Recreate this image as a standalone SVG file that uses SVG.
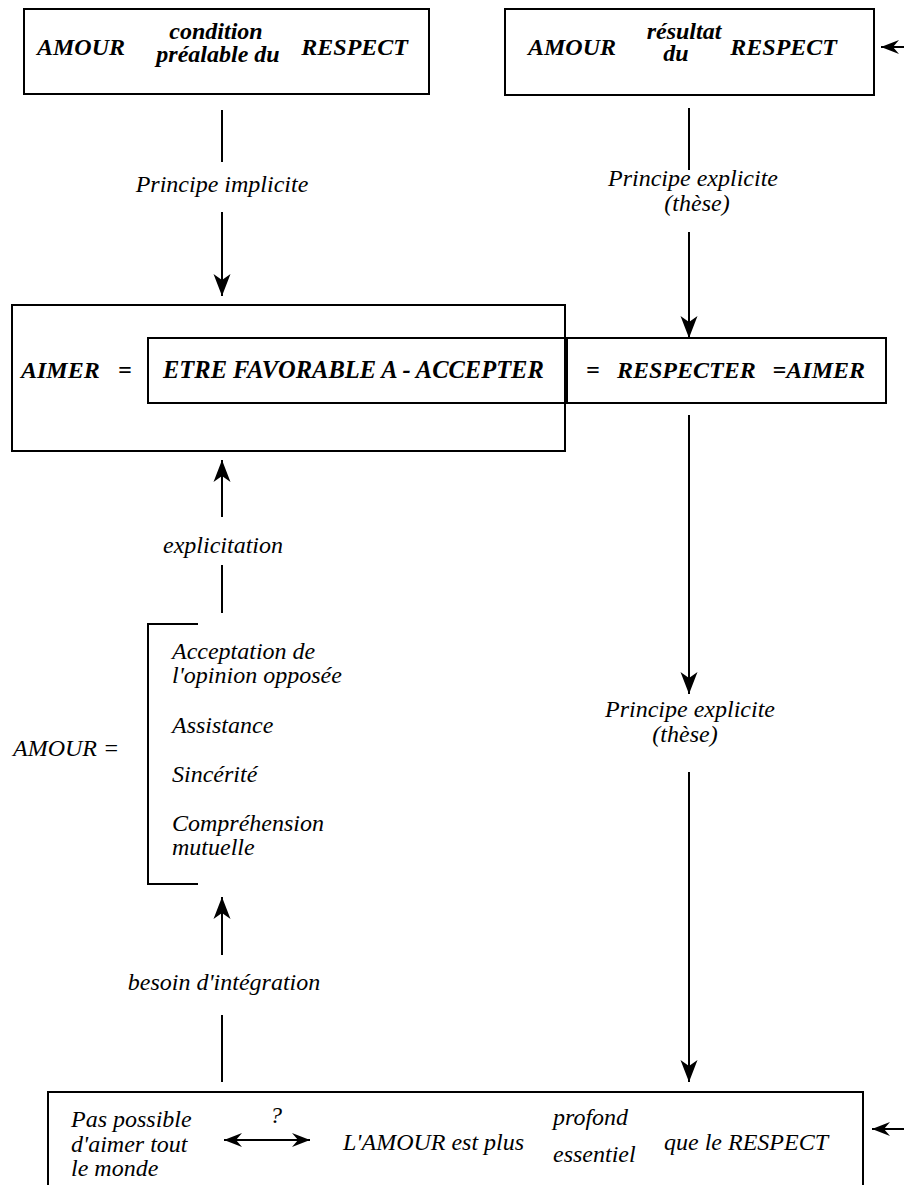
<svg xmlns="http://www.w3.org/2000/svg" width="904" height="1185" viewBox="0 0 904 1185">
<style>
.box{fill:none;stroke:#000;stroke-width:2}
.ln{fill:none;stroke:#000;stroke-width:2}
.b{font-style:italic;font-weight:bold;fill:#000;font-size:24px}
.i{font-style:italic;fill:#000;font-size:24px}
.m{text-anchor:middle}
.e{text-anchor:end}
</style>
<defs>
<marker id="ah" markerUnits="userSpaceOnUse" markerWidth="24" markerHeight="18" viewBox="-23 -9 24 18" refX="0" refY="0" orient="auto">
<path d="M0,0 L-22,-8.5 L-16,0 L-22,8.5 Z" fill="#000"/>
</marker>
<marker id="as" markerUnits="userSpaceOnUse" markerWidth="20" markerHeight="16" viewBox="-19 -8 20 16" refX="0" refY="0" orient="auto-start-reverse">
<path d="M0,0 L-18,-7 L-12,0 L-18,7 Z" fill="#000"/>
</marker>
</defs>
<g font-family="Liberation Serif, Times New Roman, serif">
<g id="node-amour-condition">
<rect class="box" x="24" y="9" width="405" height="85"/>
<text class="b" x="37" y="55">AMOUR</text>
<text class="b m" x="216" y="39">condition</text>
<text class="b m" x="218" y="62">préalable du</text>
<text class="b e" x="408" y="55">RESPECT</text>
</g>

<g id="node-amour-resultat">
<rect class="box" x="505" y="9" width="369" height="86"/>
<text class="b" x="528" y="55">AMOUR</text>
<text class="b m" x="684" y="39">résultat</text>
<text class="b m" x="676" y="61">du</text>
<text class="b e" x="837" y="55">RESPECT</text>
</g>

<g id="node-aimer">
<rect class="box" x="12" y="305" width="553" height="146"/>
<text class="b" x="21" y="378">AIMER</text>
<text class="b" x="118" y="378">=</text>
</g>

<g id="node-etre-favorable">
<rect class="box" x="148" y="338" width="417" height="65"/>
<text class="b" x="163" y="378" style="font-size:24.5px">ETRE FAVORABLE A - ACCEPTER</text>
</g>

<g id="node-respecter">
<rect class="box" x="567" y="338" width="319" height="65"/>
<text class="b" x="586" y="378">=</text>
<text class="b" x="617" y="378">RESPECTER</text>
<text class="b e" x="865" y="378">=AIMER</text>
</g>

<g id="node-amour-list">
<text class="i" x="13" y="756">AMOUR =</text>
<path class="box" d="M198,624 H148 V884 H198"/>
<text class="i" x="172" y="659">Acceptation de</text>
<text class="i" x="172" y="683">l'opinion opposée</text>
<text class="i" x="172" y="733">Assistance</text>
<text class="i" x="172" y="782">Sincérité</text>
<text class="i" x="172" y="831">Compréhension</text>
<text class="i" x="172" y="855">mutuelle</text>
</g>

<g id="node-bottom">
<path class="box" d="M48,1185 V1092 H863 V1185"/>
<text class="i" x="71" y="1127">Pas possible</text>
<text class="i" x="71" y="1152">d'aimer tout</text>
<text class="i" x="71" y="1176">le monde</text>
<text class="i m" x="276" y="1123">?</text>
<text class="i" x="343" y="1150">L'AMOUR est plus</text>
<text class="i" x="553" y="1125">profond</text>
<text class="i" x="553" y="1162">essentiel</text>
<text class="i m" x="746" y="1150">que le RESPECT</text>
</g>

<g id="connectors">
<path class="ln" d="M222,110 V162"/>
<path class="ln" d="M222,212 V296" marker-end="url(#ah)"/>
<text class="i m" x="222" y="192">Principe implicite</text>

<path class="ln" d="M689,108 V170"/>
<path class="ln" d="M689,232 V338" marker-end="url(#ah)"/>
<text class="i m" x="693" y="186">Principe explicite</text>
<text class="i m" x="697" y="211">(thèse)</text>

<path class="ln" d="M689,415 V694" marker-end="url(#ah)"/>
<text class="i m" x="690" y="717">Principe explicite</text>
<text class="i m" x="685" y="742">(thèse)</text>
<path class="ln" d="M689,772 V1082" marker-end="url(#ah)"/>

<path class="ln" d="M222,517 V460" marker-end="url(#ah)"/>
<text class="i m" x="223" y="553">explicitation</text>
<path class="ln" d="M222,565 V613"/>

<path class="ln" d="M222,955 V897" marker-end="url(#ah)"/>
<text class="i m" x="224" y="990">besoin d'intégration</text>
<path class="ln" d="M222,1015 V1082"/>

<path class="ln" d="M904,47 H881" marker-end="url(#as)"/>
<path class="ln" d="M904,1129 H872" marker-end="url(#as)"/>
<path class="ln" d="M224,1140 H310" marker-start="url(#as)" marker-end="url(#as)"/>
</g>
</g>
</svg>
